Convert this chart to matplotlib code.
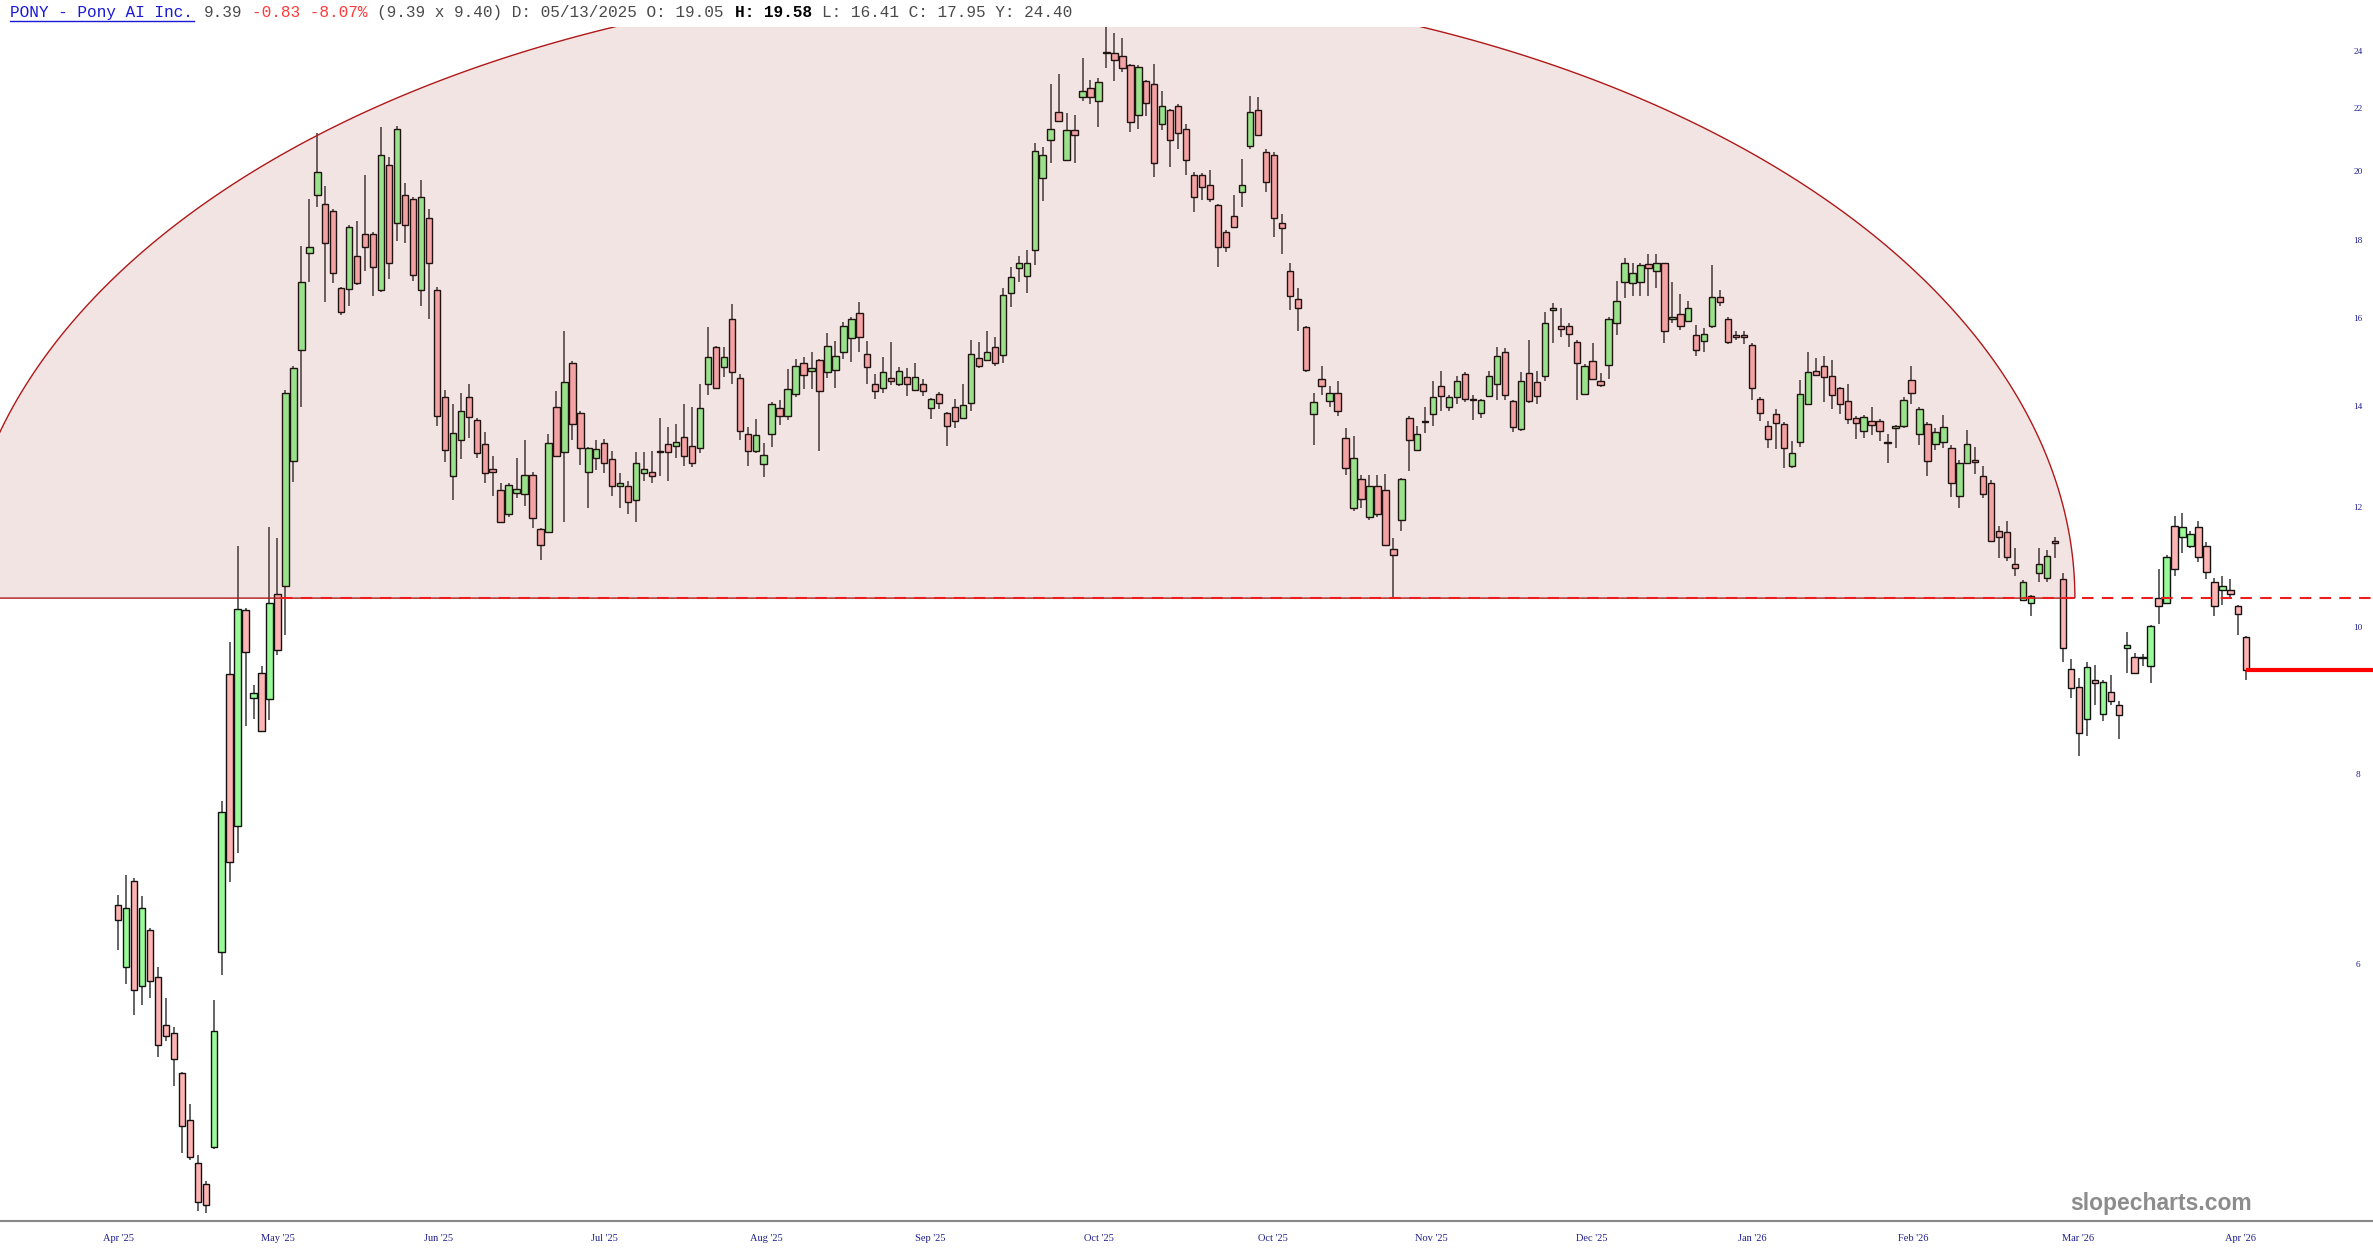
import matplotlib
matplotlib.use("Agg")
import matplotlib.pyplot as plt
import numpy as np
from matplotlib.patches import Polygon
from matplotlib.lines import Line2D
import matplotlib.transforms as mtrans

# daily OHLC, PONY, Apr 4 2025 .. end of Apr 2026
opens = [6.57, 5.98, 6.82, 5.81, 6.33, 5.89, 5.48, 5.41, 5.09, 4.74,
         4.44, 4.30, 4.55, 6.12, 9.33, 7.41, 10.28, 9.00, 9.35, 8.99,
         10.53, 10.66, 12.89, 15.26, 17.67, 19.30, 19.05, 18.85, 16.75, 16.73,
         17.60, 18.20, 18.20, 16.70, 20.20, 18.50, 19.30, 19.20, 16.70, 18.65,
         16.70, 14.20, 12.60, 13.30, 14.20, 13.72, 13.23, 12.74, 12.33, 11.90,
         12.28, 12.26, 12.62, 11.63, 11.58, 14.00, 13.07, 14.97, 13.86, 12.68,
         12.95, 13.25, 12.94, 12.41, 12.41, 12.15, 12.66, 12.68, 13.06, 13.23,
         13.19, 13.37, 13.19, 13.15, 14.50, 15.33, 14.87, 16.00, 14.62, 13.44,
         13.08, 12.83, 13.44, 13.98, 13.81, 14.27, 14.97, 14.78, 15.03, 14.76,
         14.81, 15.20, 15.53, 16.14, 15.17, 14.50, 14.40, 14.62, 14.50, 14.64,
         14.36, 14.50, 13.98, 14.27, 13.86, 14.00, 13.76, 14.08, 15.08, 15.03,
         15.33, 15.15, 16.63, 17.28, 17.08, 17.76, 19.80, 21.00, 21.90, 20.35,
         21.30, 22.40, 22.70, 22.25, 23.95, 23.95, 23.85, 23.50, 21.80, 22.95,
         22.85, 21.50, 21.95, 22.10, 21.35, 19.90, 19.90, 19.60, 19.00, 18.25,
         18.70, 19.40, 20.80, 21.95, 20.60, 20.50, 18.50, 17.20, 16.48, 15.80,
         13.85, 14.60, 14.12, 14.30, 13.35, 12.00, 12.55, 11.84, 12.42, 12.33,
         11.28, 11.78, 13.77, 13.10, 13.68, 13.85, 14.45, 14.00, 14.20, 14.71,
         14.16, 13.87, 14.22, 14.50, 15.22, 14.13, 13.53, 14.73, 14.54, 14.66,
         16.20, 15.82, 15.82, 15.45, 14.27, 15.00, 14.56, 14.92, 15.90, 16.92,
         16.90, 16.92, 17.38, 17.20, 17.40, 16.00, 16.12, 15.95, 15.60, 15.47,
         15.82, 16.53, 16.00, 15.62, 15.62, 15.37, 14.16, 13.59, 13.85, 13.63,
         12.79, 13.27, 14.05, 14.78, 14.90, 14.67, 14.40, 14.12, 13.76, 13.50,
         13.69, 13.70, 13.27, 13.55, 13.59, 14.58, 13.43, 13.63, 13.23, 13.27,
         13.15, 12.22, 12.85, 12.91, 12.60, 12.47, 11.60, 11.58, 11.02, 10.44,
         10.39, 10.87, 10.80, 11.42, 10.78, 9.40, 9.15, 8.71, 9.24, 8.78,
         9.08, 8.90, 9.70, 9.58, 9.58, 9.45, 10.47, 10.39, 11.68, 11.49,
         11.33, 11.67, 11.33, 10.73, 10.60, 10.60, 10.34, 9.87]
highs = [6.67, 6.88, 6.85, 6.66, 6.35, 5.98, 5.71, 5.46, 5.10, 4.86,
         4.50, 4.32, 5.69, 7.69, 9.80, 11.34, 10.32, 9.18, 9.44, 11.67,
         11.47, 14.35, 14.90, 17.87, 19.19, 21.20, 19.58, 18.90, 16.80, 18.45,
         18.55, 19.90, 18.25, 21.40, 20.45, 21.45, 19.65, 19.25, 19.75, 18.90,
         16.80, 14.35, 14.05, 14.30, 14.50, 13.76, 13.47, 12.99, 12.47, 12.47,
         12.95, 13.30, 12.68, 11.65, 13.43, 14.33, 15.70, 15.00, 13.90, 13.16,
         13.30, 13.32, 13.08, 12.66, 12.50, 13.06, 13.06, 13.08, 13.76, 13.57,
         13.64, 14.05, 14.00, 14.50, 15.80, 15.35, 15.33, 16.36, 14.71, 13.57,
         13.74, 13.25, 14.10, 14.14, 14.83, 15.05, 15.10, 15.20, 15.05, 15.66,
         15.47, 15.92, 16.04, 16.40, 15.47, 14.71, 15.10, 15.44, 14.87, 14.85,
         14.95, 14.60, 14.18, 14.31, 13.88, 14.16, 14.50, 15.49, 15.45, 15.70,
         15.55, 16.76, 17.30, 17.60, 17.75, 20.90, 20.75, 22.85, 23.20, 21.85,
         21.80, 23.75, 23.00, 23.05, 25.00, 24.70, 24.50, 23.55, 23.50, 23.00,
         23.55, 22.60, 22.00, 22.15, 21.50, 20.00, 19.95, 20.05, 19.05, 18.30,
         19.30, 20.40, 22.45, 22.40, 20.70, 20.60, 18.75, 17.40, 16.75, 15.82,
         14.30, 14.90, 14.45, 14.55, 13.55, 13.40, 12.62, 12.63, 12.63, 12.64,
         11.47, 12.57, 13.80, 13.60, 14.00, 14.55, 14.78, 14.25, 14.66, 14.76,
         14.26, 14.17, 14.77, 15.33, 15.30, 14.15, 14.76, 15.50, 14.77, 16.16,
         16.39, 16.25, 15.90, 15.48, 14.93, 15.43, 14.73, 16.05, 16.95, 17.55,
         17.40, 17.40, 17.65, 17.65, 17.42, 16.92, 16.62, 16.43, 15.85, 15.77,
         17.35, 16.72, 16.05, 15.70, 15.70, 15.42, 14.20, 13.70, 13.95, 13.68,
         13.28, 14.58, 15.22, 15.07, 15.12, 15.03, 14.42, 14.50, 13.80, 13.82,
         14.00, 13.73, 13.43, 13.62, 14.20, 14.90, 14.00, 13.68, 13.55, 13.82,
         13.20, 12.91, 13.52, 13.17, 12.79, 12.53, 11.68, 11.77, 11.29, 10.76,
         10.52, 11.29, 11.26, 11.49, 10.87, 9.55, 9.28, 9.50, 9.46, 9.25,
         9.32, 8.95, 9.94, 9.63, 9.62, 10.05, 10.95, 11.17, 11.86, 11.92,
         11.60, 11.77, 11.40, 10.80, 10.82, 10.78, 10.36, 9.88]
lows = [6.14, 5.83, 5.56, 5.65, 5.71, 5.22, 5.35, 4.99, 4.51, 4.46,
        4.13, 4.12, 4.54, 5.91, 6.81, 7.11, 8.62, 8.71, 8.54, 8.70,
        9.61, 9.90, 12.49, 14.00, 16.92, 18.95, 16.41, 16.90, 16.10, 16.30,
        16.85, 17.20, 16.55, 16.65, 17.00, 18.00, 17.95, 16.95, 16.30, 16.00,
        13.60, 12.87, 12.15, 12.93, 13.35, 12.95, 12.47, 12.22, 11.73, 11.85,
        12.19, 12.04, 11.65, 11.09, 11.56, 12.97, 11.75, 13.30, 12.82, 12.00,
        12.72, 12.65, 12.22, 12.00, 11.90, 11.75, 12.50, 12.47, 12.61, 12.50,
        12.95, 12.79, 12.77, 13.05, 14.24, 14.38, 14.64, 14.49, 13.31, 12.79,
        13.05, 12.58, 13.16, 13.62, 13.72, 14.20, 14.38, 14.38, 13.08, 14.62,
        14.40, 15.05, 14.98, 15.20, 14.49, 14.16, 14.30, 14.47, 14.45, 14.22,
        14.33, 14.22, 13.74, 13.96, 13.19, 13.56, 13.74, 13.91, 14.85, 15.00,
        14.89, 14.95, 16.28, 16.92, 16.63, 17.35, 19.13, 20.25, 21.55, 20.33,
        20.25, 22.25, 22.15, 21.40, 23.40, 22.95, 23.25, 21.25, 21.35, 21.75,
        19.85, 21.30, 20.15, 20.70, 19.90, 18.80, 19.15, 19.10, 17.30, 17.70,
        18.38, 18.95, 20.70, 21.10, 19.40, 18.10, 17.65, 16.20, 15.70, 14.75,
        13.20, 14.25, 14.00, 13.80, 12.63, 11.95, 12.00, 11.78, 11.84, 11.33,
        10.48, 11.60, 12.70, 13.08, 13.45, 13.60, 13.90, 13.90, 14.05, 14.10,
        13.72, 13.76, 14.20, 14.15, 14.15, 13.47, 13.50, 14.08, 14.06, 14.56,
        15.43, 15.57, 15.33, 14.15, 14.25, 14.58, 14.43, 14.60, 15.60, 16.50,
        16.55, 16.55, 16.55, 16.75, 15.43, 15.90, 15.73, 15.92, 15.13, 15.22,
        15.77, 16.30, 15.40, 15.50, 15.40, 14.14, 13.69, 13.15, 13.13, 12.75,
        12.75, 13.17, 14.03, 14.68, 14.10, 13.95, 13.85, 13.63, 13.33, 13.35,
        13.41, 13.29, 12.85, 13.15, 13.55, 14.06, 13.20, 12.60, 13.10, 13.15,
        12.20, 12.00, 12.83, 12.64, 12.18, 11.40, 11.13, 11.07, 10.82, 10.42,
        10.19, 10.73, 10.73, 11.13, 9.50, 9.00, 8.24, 8.49, 8.90, 8.69,
        8.90, 8.45, 9.35, 9.33, 9.45, 9.20, 10.07, 10.37, 10.82, 11.22,
        11.30, 11.06, 10.78, 10.19, 10.36, 10.47, 9.90, 9.24]
closes = [6.42, 6.54, 5.78, 6.54, 5.86, 5.31, 5.39, 5.20, 4.70, 4.48,
          4.19, 4.17, 5.43, 7.57, 7.02, 10.30, 9.65, 9.06, 8.56, 10.39,
          9.68, 14.30, 14.85, 16.92, 17.85, 20.00, 17.95, 17.15, 16.17, 18.40,
          16.90, 17.85, 17.30, 20.50, 17.40, 21.35, 18.45, 17.10, 19.25, 17.40,
          13.80, 13.10, 13.45, 13.90, 13.78, 13.05, 12.65, 12.68, 11.75, 12.43,
          12.35, 12.62, 11.83, 11.35, 13.25, 12.99, 14.54, 13.64, 13.14, 13.14,
          13.12, 12.85, 12.41, 12.47, 12.12, 12.85, 12.74, 12.61, 13.08, 13.06,
          13.27, 12.99, 12.85, 13.98, 15.10, 14.40, 15.10, 14.76, 13.50, 13.08,
          13.41, 13.01, 14.05, 13.81, 14.38, 14.90, 14.68, 14.85, 14.34, 15.35,
          15.13, 15.82, 16.00, 15.56, 14.87, 14.34, 14.76, 14.56, 14.78, 14.50,
          14.64, 14.34, 14.16, 14.08, 13.60, 13.69, 14.04, 15.17, 14.89, 15.20,
          14.95, 16.58, 17.05, 17.42, 17.42, 20.65, 20.50, 21.35, 21.60, 21.30,
          21.15, 22.60, 22.40, 22.90, 24.00, 23.70, 23.40, 21.55, 23.45, 22.20,
          20.25, 22.10, 21.00, 21.20, 20.35, 19.25, 19.55, 19.20, 17.85, 17.85,
          18.40, 19.60, 21.90, 21.15, 19.70, 18.65, 18.35, 16.55, 16.25, 14.80,
          14.10, 14.45, 14.30, 13.90, 12.75, 12.95, 12.17, 12.42, 11.90, 11.35,
          11.18, 12.55, 13.30, 13.43, 13.70, 14.20, 14.22, 14.20, 14.56, 14.16,
          14.14, 14.15, 14.66, 15.13, 14.26, 13.57, 14.56, 14.13, 14.22, 15.90,
          16.25, 15.74, 15.63, 14.95, 14.90, 14.60, 14.47, 16.00, 16.43, 17.40,
          17.15, 17.35, 17.28, 17.42, 15.70, 16.05, 15.82, 16.25, 15.25, 15.63,
          16.53, 16.40, 15.45, 15.55, 15.55, 14.40, 13.86, 13.33, 13.65, 13.15,
          13.05, 14.27, 14.76, 14.70, 14.64, 14.25, 14.06, 13.74, 13.65, 13.78,
          13.61, 13.50, 13.25, 13.59, 14.15, 14.30, 13.95, 12.90, 13.47, 13.57,
          12.47, 12.85, 13.23, 12.87, 12.27, 11.42, 11.49, 11.14, 10.96, 10.73,
          10.50, 11.02, 11.16, 11.38, 9.70, 9.14, 8.53, 9.43, 9.21, 9.22,
          8.95, 8.77, 9.75, 9.35, 9.56, 10.03, 10.34, 11.15, 10.95, 11.67,
          11.54, 11.14, 10.90, 10.34, 10.67, 10.53, 10.22, 9.39]

# axis labels as printed on the chart (the second "Oct '25" is on the original)
month_labels = ["Apr '25", "May '25", "Jun '25", "Jul '25", "Aug '25", "Sep '25", "Oct '25",
                "Oct '25", "Nov '25", "Dec '25", "Jan '26", "Feb '26", "Mar '26", "Apr '26"]
month_pos = [0, 20, 40.2, 61, 81.4, 101.9, 123.1, 144.9, 164.8, 184.9, 205, 225.2, 245.9, 266.3]
price_ticks = [6, 8, 10, 12, 14, 16, 18, 20, 22, 24]

# rounded-top drawing: centre candle, half width in candles, base and top price
arc_center = 112.9
arc_halfwidth = 132.6
arc_base = 10.47
arc_top = 26.75
support_start = 20.5
last_price = 9.39

navy = '#1f1f8f'
o = np.array(opens); h = np.array(highs); l = np.array(lows); c = np.array(closes)
x = np.arange(len(o))
up = c >= o

fig = plt.figure(figsize=(23.73, 12.60), dpi=100)
ax = fig.add_axes([0, 0.03095, 1, 0.94762])
ax.set_yscale('log')
ax.set_xlim(-14.81, 282.9)
ax.set_ylim(4.068, 24.91)

ax.vlines(x, l, h, color='#3a3a3a', lw=1.1, zorder=2)
bot = np.minimum(o, c)
hgt = np.maximum(np.abs(c - o), 0.02)
ax.bar(x, hgt, bottom=bot, width=0.8,
       color=np.where(up, '#98fb98', '#ffb4b4'),
       edgecolor='#111111', linewidth=1.0, zorder=3)

# half ellipse (in log-price space), translucent fill on top of candles
t = np.linspace(0, np.pi, 400)
ex = arc_center + arc_halfwidth * np.cos(t)
ey = arc_base * np.exp(np.log(arc_top / arc_base) * np.sin(t))
ax.add_patch(Polygon(np.column_stack([ex, ey]), closed=True,
                     facecolor=(0.63, 0.16, 0.16, 0.12), edgecolor='none', zorder=4))
ax.add_patch(Polygon(np.column_stack([ex, ey]), closed=True,
                     facecolor='none', edgecolor='#b01818', lw=1.0, zorder=5))

ax.plot([support_start, 300], [arc_base, arc_base], color='#ee1c1c', lw=1.5,
        ls=(0, (5.5, 4.0)), zorder=6)
ax.plot([x[-1], 300], [last_price, last_price], color='#ff0000', lw=3.0,
        solid_capstyle='butt', zorder=6)

for s in ['top', 'left', 'right']:
    ax.spines[s].set_visible(False)
ax.spines['bottom'].set_color('#888888')
ax.spines['bottom'].set_linewidth(1.5)

ax.set_yticks([])
ax.set_yticks([], minor=True)
tr = mtrans.blended_transform_factory(ax.transAxes, ax.transData)
for p in price_ticks:
    ax.text(0.9937, p, str(p), transform=tr, ha='center', va='center',
            fontsize=6.7, color=navy, family='Liberation Serif')

ax.set_xticks(month_pos)
ax.set_xticklabels(month_labels, fontsize=7.5, color=navy, family='Liberation Serif')
ax.tick_params(axis='x', length=0, pad=9)

fig.text(0.9107, 0.0452, 'slopecharts.com', ha='center', va='center',
         fontsize=16.5, fontweight='bold', color='#8c8c8c', family='Liberation Sans')

# header line, monospace, placed by character count
cw = 9.67 / 2373
x0 = 10 / 2373
hy = 0.9897
parts = [(0, 'PONY - Pony AI Inc.', '#1a1ad6', 'normal'),
         (20, '9.39', '#4a4a4a', 'normal'),
         (25, '-0.83 -8.07%', '#ff3a3a', 'normal'),
         (38, '(9.39 x 9.40) D: 05/13/2025 O: 19.05', '#4a4a4a', 'normal'),
         (75, 'H: 19.58', '#000000', 'bold'),
         (84, 'L: 16.41 C: 17.95 Y: 24.40', '#4a4a4a', 'normal')]
for k, s, col, w in parts:
    fig.text(x0 + k * cw, hy, s, ha='left', va='center', fontsize=11.6,
             color=col, fontweight=w, family='Liberation Mono')
fig.add_artist(Line2D([x0, x0 + 19 * cw], [hy - 0.0062, hy - 0.0062],
                      color='#1a1ad6', lw=1.0, transform=fig.transFigure))

fig.savefig('out.png', dpi=100, facecolor='white')
